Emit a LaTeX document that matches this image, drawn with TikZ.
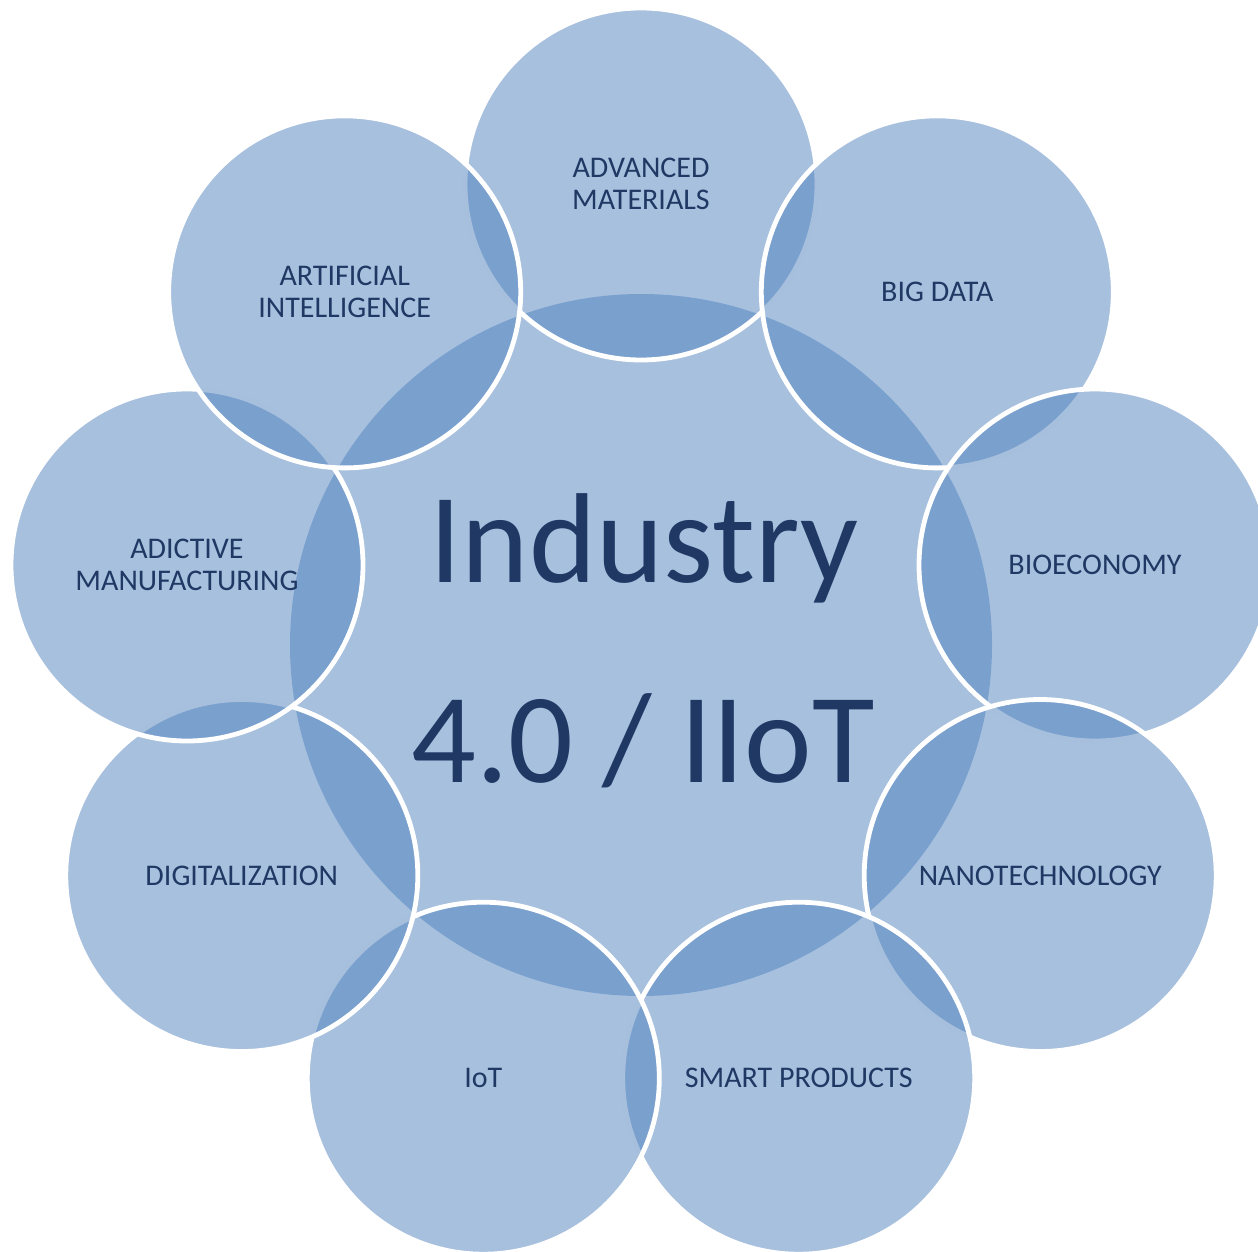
\documentclass[tikz,border=0pt]{standalone}
\usepackage{fontspec}
\setmainfont{Carlito}
\definecolor{ringblue}{HTML}{4F81BD}
\definecolor{txtblue}{HTML}{1F3864}
\begin{document}
\begin{tikzpicture}[x=1pt,y=-1pt,
  bubble/.style={circle, inner sep=0pt, outer sep=0pt, minimum size=352pt, fill=ringblue, fill opacity=0.5, draw=white, line width=4.8pt},
  hub/.style={circle, inner sep=0pt, outer sep=0pt, minimum size=702pt, fill=ringblue, fill opacity=0.5},
  lbl/.style={text=txtblue, align=center, inner sep=0pt, font=\fontsize{30}{32}\selectfont},
  big/.style={text=txtblue, anchor=base, inner sep=0pt, font=\fontsize{128}{150}\selectfont}]
\useasboundingbox (0,0) rectangle (1258,1252);
% hub and ring
\node[hub] (hub) at (641,645) {};
\node[bubble] (am)   at (641,184) {};
\node[bubble] (bd)   at (937.3,291.9) {};
\node[bubble] (bio)  at (1095,565) {};
\node[bubble] (nano) at (1040.2,875.5) {};
\node[bubble] (sp)   at (798.7,1078.2) {};
\node[bubble] (iot)  at (483.3,1078.2) {};
\node[bubble] (dig)  at (241.8,875.5) {};
\node[bubble] (add)  at (187,565) {};
\node[bubble] (ai)   at (344.7,291.9) {};
% labels
\node[lbl] (amL)   at (am)   {ADVANCED\\MATERIALS};
\node[lbl] (bdL)   at (bd)   {BIG DATA};
\node[lbl] (bioL)  at (bio)  {BIOECONOMY};
\node[lbl] (nanoL) at (nano) {NANOTECHNOLOGY};
\node[lbl] (spL)   at (sp)   {SMART PRODUCTS};
\node[lbl] (iotL)  at (iot)  {IoT};
\node[lbl] (digL)  at (dig)  {DIGITALIZATION};
\node[lbl] (addL)  at (add)  {ADICTIVE\\MANUFACTURING};
\node[lbl] (aiL)   at (ai)   {ARTIFICIAL\\INTELLIGENCE};
% centre title
\node[big] (t1) at (644,582) {Industry};
\node[big] (t2) at (643,782) {4.0 / IIoT};
\end{tikzpicture}
\end{document}
